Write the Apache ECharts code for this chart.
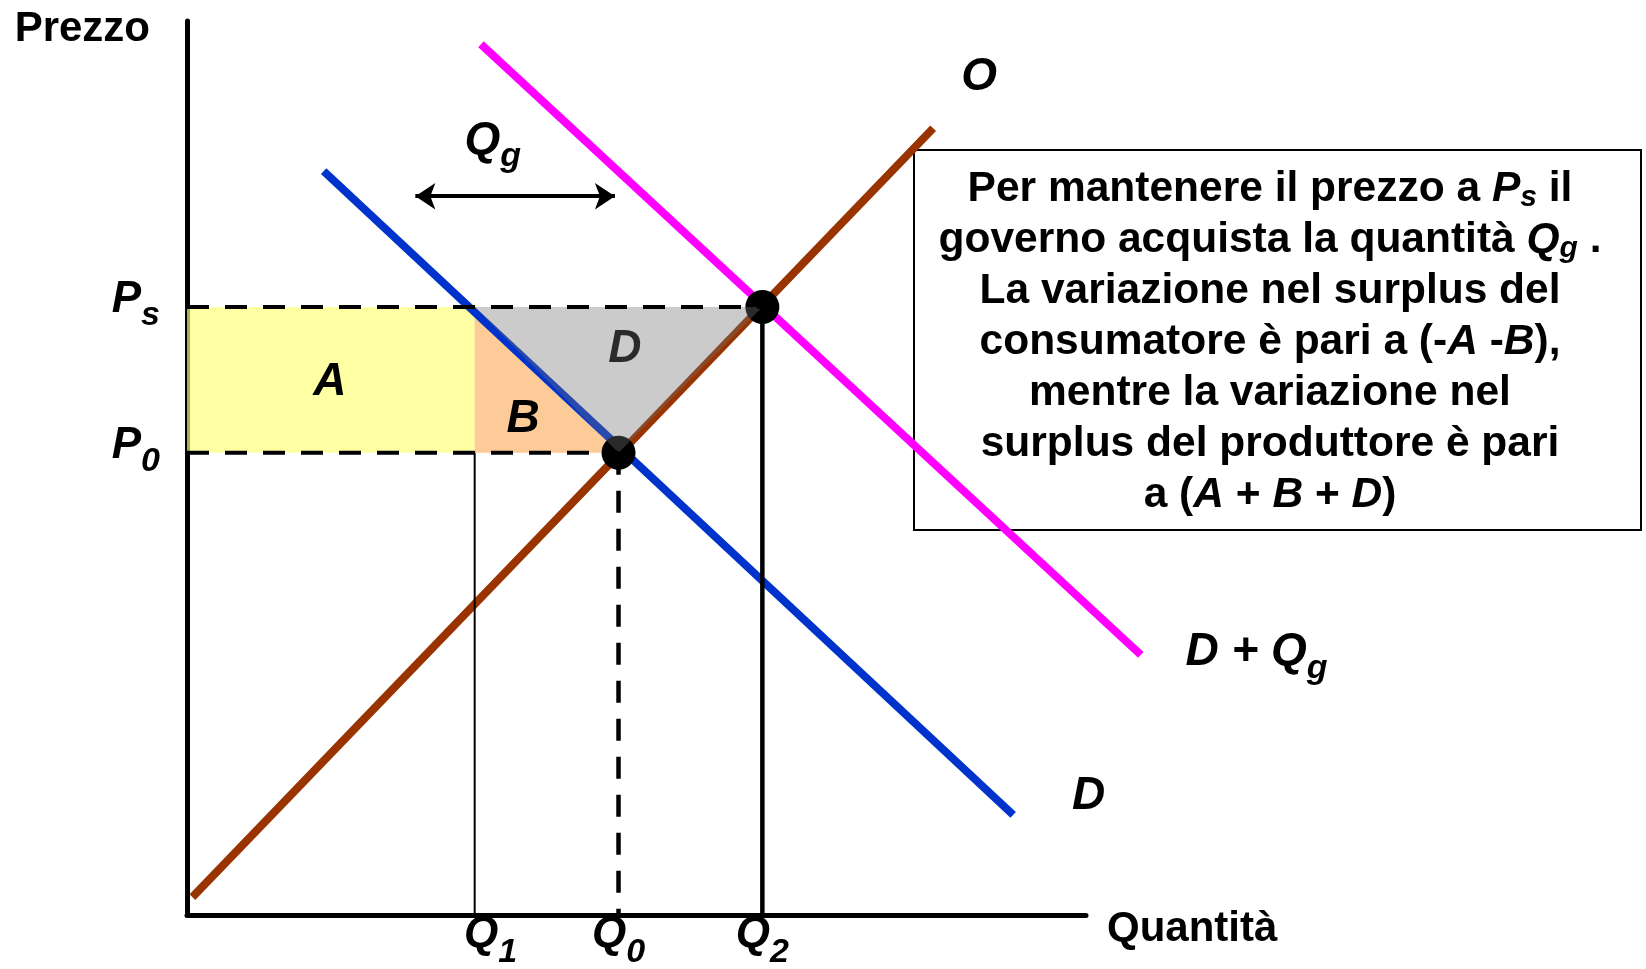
<!DOCTYPE html>
<html>
<head>
<meta charset="utf-8">
<script src="https://cdn.jsdelivr.net/npm/echarts@6/dist/echarts.min.js"></script>
<style>
  html, body { margin: 0; background: #fff; }
  #chart { width: 1646px; height: 969px; }
</style>
</head>
<body>
<div id="chart"></div>
<script>
// quantità e prezzi (unità del grafico 0-100)
const Q1 = 32, Q0 = 48, Q2 = 64
const P0 = 51.7, Ps = 68
const qTicks = [Q1, Q0, Q2]
const qTickLabels = ["1", "0", "2"]
const pTicks = [P0, Ps]
const pTickLabels = ["0", "s"]

// curve
const offerta = [[0.6, 2], [83, 88]]
const domanda = [[15.2, 83.2], [91.9, 11.2]]
const domandaQg = [[32.7, 97.4], [106.1, 29.1]]

// aree
const areaA = [[0, Ps], [0, P0], [Q1, P0], [Q1, Ps]]
const areaB = [[Q1, Ps], [Q1, P0], [Q0, P0]]
const areaD = [[Q1, Ps], [Q0, P0], [Q2, Ps]]

const equilibri = [[Q0, P0], [Q2, Ps]]
const frecciaQg = [[25.4, 80.4], [47.6, 80.4]]

// etichette sul grafico
const etichette = ["O", "D + Q", "D", "A", "B", "D", "Q"]
const etichettePedice = ["", "g", "", "", "", "", "g"]
const etichetteX = [88.1, 111, 100.3, 15.9, 37.4, 48.7, 34]
const etichetteY = [93.7, 28.6, 13.3, 59.6, 55.5, 63.3, 85.8]

const testoBox = [
  "Per mantenere il prezzo a {bi|P}{bs|s} il",
  "governo acquista la quantità {bi|Q}{bs|g} .",
  "La variazione nel surplus del",
  "consumatore è pari a (-{bi|A} -{bi|B}),",
  "mentre la variazione nel",
  "surplus del produttore è pari",
  "a ({bi|A} + {bi|B} + {bi|D})",
]

const font = "Liberation Sans, Arial, sans-serif"
const base = { fontFamily: font, fontWeight: "bold", color: "#000" }
const rich = {
  n: { ...base, fontStyle: "italic", fontSize: 46 },
  i: { ...base, fontStyle: "italic", fontSize: 46, padding: [0, 0, 14, 0] },
  sub: { ...base, fontStyle: "italic", fontSize: 34, padding: [18, 0, 0, 0] },
  q: { ...base, fontStyle: "italic", fontSize: 44, padding: [0, 0, 16, 0] },
  q1: { ...base, fontStyle: "italic", fontSize: 44, padding: [0, 0, 16, 32] },
  qs: { ...base, fontStyle: "italic", fontSize: 34, padding: [19, 0, 0, 0] },
  p: { ...base, fontStyle: "italic", fontSize: 44, padding: [0, 0, 14, 0] },
}

function segmento(points, color, width, type) {
  return {
    type: "line",
    data: points,
    symbol: "none",
    silent: true,
    lineStyle: { color: color, width: width, type: type || "solid" },
  }
}

// curva disegnata senza ritaglio sul bordo della griglia
function curva(points, color, width) {
  return {
    type: "custom",
    silent: true,
    clip: false,
    data: [0],
    renderItem: (params, api) => ({
      type: "polyline",
      shape: { points: points.map((p) => api.coord(p)) },
      style: { stroke: color, lineWidth: width, fill: null },
    }),
  }
}

function poligono(points, fill, z) {
  return {
    type: "custom",
    z: z || 2,
    silent: true,
    clip: false,
    data: [0],
    renderItem: (params, api) => ({
      type: "polygon",
      shape: { points: points.map((p) => api.coord(p)) },
      style: { fill: fill },
    }),
  }
}

let myChart = echarts.init(document.getElementById("chart"))
myChart.setOption({
  animation: false,
  grid: { left: 187, right: 560, top: 21, bottom: 54, containLabel: false, outerBoundsMode: "none" },
  xAxis: {
    type: "value",
    min: 0,
    max: 100,
    name: "Quantità",
    nameLocation: "end",
    nameGap: 21,
    nameMoveOverlap: false,
    nameTextStyle: { fontFamily: font, fontSize: 42, fontWeight: "bold", color: "#000", align: "left", verticalAlign: "top", lineHeight: 28 },
    axisLine: { onZero: false, lineStyle: { color: "#000", width: 5 } },
    axisTick: { show: false },
    splitLine: { show: false },
    axisLabel: {
      customValues: qTicks,
      margin: -2,
      formatter: (value) => {
        const i = qTicks.findIndex((v) => Math.abs(v - value) < 1e-6)
        return `{${i === 0 ? "q1" : "q"}|Q}{qs|${qTickLabels[i]}}`
      },
      rich: rich,
    },
  },
  yAxis: {
    type: "value",
    min: 0,
    max: 100,
    name: "Prezzo",
    nameLocation: "end",
    nameGap: -8,
    nameMoveOverlap: false,
    nameTextStyle: { fontFamily: font, fontSize: 42, fontWeight: "bold", color: "#000", align: "right", verticalAlign: "middle", padding: [0, 37, 0, 0] },
    axisLine: { show: true, onZero: false, lineStyle: { color: "#000", width: 5 } },
    axisTick: { show: false },
    splitLine: { show: false },
    axisLabel: {
      customValues: pTicks,
      margin: 27,
      formatter: (value) => {
        const i = pTicks.findIndex((v) => Math.abs(v - value) < 1e-6)
        return `{p|P}{sub|${pTickLabels[i]}}`
      },
      rich: rich,
    },
  },
  graphic: [
    {
      type: "rect",
      z: 0,
      silent: true,
      shape: { x: 914, y: 150, width: 727, height: 380 },
      style: { fill: "#fff", stroke: "#000", lineWidth: 2 },
    },
    {
      type: "text",
      z: 1,
      silent: true,
      x: 1270,
      y: 342,
      style: {
        text: testoBox.join("\n"),
        align: "center",
        verticalAlign: "middle",
        fontFamily: font,
        fontSize: 42.5,
        fontWeight: "bold",
        fill: "#000",
        lineHeight: 51,
        rich: {
          bi: { fontFamily: font, fontSize: 42.5, fontWeight: "bold", fontStyle: "italic", fill: "#000", lineHeight: 51 },
          bs: { fontFamily: font, fontSize: 30, fontWeight: "bold", fontStyle: "italic", fill: "#000", lineHeight: 51, padding: [18, 0, 0, 0] },
        },
      },
    },
  ],
  series: [
    // linee tratteggiate e verticali
    segmento([[0, Ps], [Q2, Ps]], "#000", 4, [22, 16]),
    segmento([[0, P0], [Q0, P0]], "#000", 4, [22, 16]),
    segmento([[Q0, P0], [Q0, 0]], "#000", 4.5, [22, 16]),
    segmento([[Q1, P0], [Q1, 0]], "#000", 2),
    segmento([[Q2, Ps], [Q2, 0]], "#000", 4.5),
    // aree A e B
    poligono(areaA, "rgba(255,255,120,0.68)"),
    poligono(areaB, "rgba(250,168,83,0.6)"),
    // curve
    curva(offerta, "#993300", 8),
    curva(domanda, "#0033CC", 8),
    curva(domandaQg, "#FF00FF", 8),
    {
      type: "scatter",
      silent: true,
      symbolSize: 34,
      itemStyle: { color: "#000", opacity: 1 },
      data: equilibri,
    },
    {
      type: "scatter",
      silent: true,
      clip: false,
      symbolSize: 1,
      itemStyle: { color: "rgba(0,0,0,0)", opacity: 1 },
      data: etichette.map((t, i) => ({
        value: [etichetteX[i], etichetteY[i]],
        name: t,
        sub: etichettePedice[i],
        label: i === 1 ? { position: "right", distance: 0 } : undefined,
      })),
      label: {
        show: true,
        position: "inside",
        formatter: (p) => (p.data.sub ? `{i|${p.data.name}}{sub|${p.data.sub}}` : `{n|${p.data.name}}`),
        rich: rich,
      },
      markLine: {
        silent: true,
        symbol: ["arrow", "arrow"],
        symbolSize: 20,
        label: { show: false },
        lineStyle: { color: "#000", width: 4, type: "solid" },
        data: [[{ coord: frecciaQg[0] }, { coord: frecciaQg[1] }]],
      },
    },
    // area D sopra tutto
    poligono(areaD, "rgba(115,115,115,0.37)", 3),
  ],
})

window.addEventListener("resize", () => {
  myChart.resize()
})
</script>
</body>
</html>
